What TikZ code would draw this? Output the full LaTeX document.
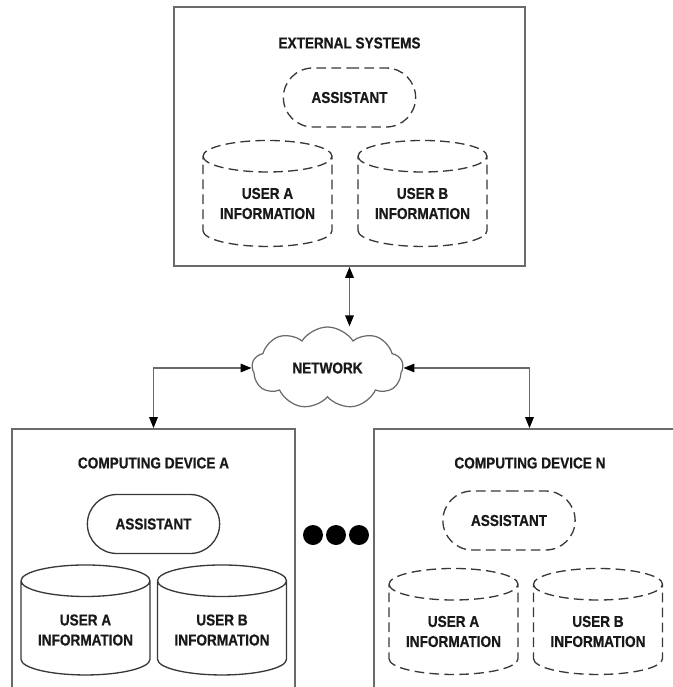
\documentclass[tikz,border=0pt]{standalone}
\usepackage{fontspec}
\setmainfont{Liberation Sans}[FakeStretch=0.86, FakeBold=0.6]
\usetikzlibrary{positioning, arrows.meta, shapes.geometric, shapes.symbols, shapes.misc}
\definecolor{framegray}{HTML}{6A6A6A}
\definecolor{inkgray}{HTML}{383838}
\tikzset{
  >={Triangle[length=2.2mm, width=1.7mm, color=black]},
  every node/.style={font=\fontsize{9}{11.4}\selectfont\bfseries, text=black!90},
  devicebox/.style={rectangle, draw=framegray, line width=1pt},
  assistant/.style={
    rounded rectangle, draw=inkgray, line width=0.75pt,
    minimum width=2.88cm, minimum height=1.18cm
  },
  userinfo/.style={
    cylinder, shape border rotate=90, aspect=0.32, draw=inkgray,
    line width=0.75pt, minimum width=2.58cm, minimum height=2.12cm,
    align=center, inner sep=1pt
  },
  remote/.style={dash pattern=on 5.5pt off 3pt},
  link/.style={<->, framegray, line width=0.9pt}
}

\begin{document}
\begin{tikzpicture}[x=0.02cm, y=-0.02cm]

\clip (0,0) rectangle (673,687);

% ── External systems (top) ───────────────────────────────────────────────────
\node[devicebox, minimum width=7.02cm, minimum height=5.18cm] (ext) at (349.5,136.5) {};
\node (exttitle) at (349.5,43) {EXTERNAL SYSTEMS};
\node[assistant, remote] (extasst) at (349.5,97.5) {ASSISTANT};
\node[userinfo, remote] (extusera) at (267.5,203.5) {USER A\\INFORMATION};
\node[userinfo, remote] (extuserb) at (422.5,203.5) {USER B\\INFORMATION};

% ── Network cloud ────────────────────────────────────────────────────────────
\node[cloud, draw=framegray, line width=0.7pt, cloud puffs=9, cloud puff arc=115,
      aspect=1.8, minimum width=3.02cm, minimum height=1.64cm, inner sep=0pt]
  (net) at (327.5,368) {NETWORK};

% ── Computing devices (bottom, cut off by the page) ──────────────────────────
\node[devicebox, minimum width=5.66cm, minimum height=6cm] (devA) at (153.5,579) {};
\node[devicebox, minimum width=6.22cm, minimum height=6cm] (devN) at (529.5,579) {};

\node (devAtitle) at (153.5,463) {COMPUTING DEVICE A};
\node[assistant] (devAasst) at (153.5,524) {ASSISTANT};
\node[userinfo, minimum height=2.2cm] (devAusera) at (85.5,630) {USER A\\INFORMATION};
\node[userinfo, minimum height=2.2cm] (devAuserb) at (222,630) {USER B\\INFORMATION};

\node (devNtitle) at (530,463) {COMPUTING DEVICE N};
\node[assistant, remote] (devNasst) at (509,520.5) {ASSISTANT};
\node[userinfo, remote] (devNusera) at (453.5,631.5) {USER A\\INFORMATION};
\node[userinfo, remote] (devNuserb) at (598,631.5) {USER B\\INFORMATION};

% ellipsis between the devices
\foreach \x in {313,336,359}
  \fill[black] (\x,535) circle (10);

% ── Connectors ───────────────────────────────────────────────────────────────
\draw[link] (ext.south -| extasst) -- (extasst |- net.north);
\draw[link] (net.west) -| (devA.north);
\draw[link] (net.east) -| (devN.north);

\end{tikzpicture}
\end{document}
